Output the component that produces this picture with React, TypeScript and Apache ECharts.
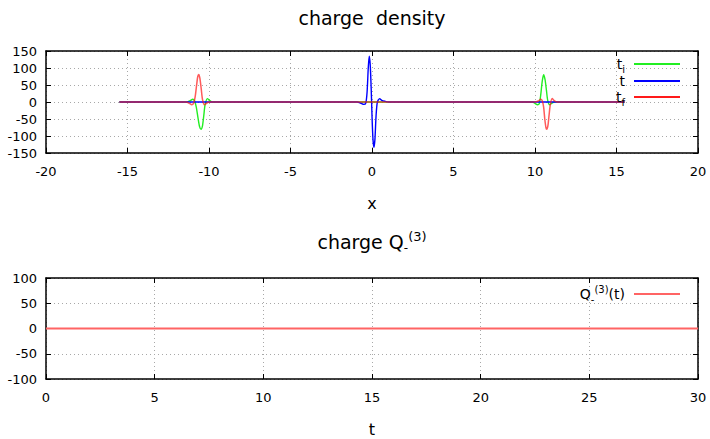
import React, { useEffect, useRef } from "react";
import * as echarts from "echarts";

const FONT = "DejaVu Sans";

// ---- data: charge density (top panel) ----
const xAxisRange = { min: -20, max: 20, interval: 5 };
const yDensityRange = { min: -150, max: 150, interval: 50 };

const tiPoints: [number, number][] = [
  [-15.5, 0], [-11.35, 0], [-11.15, 4], [-11.0, 8], [-10.88, 3], [-10.78, -15], [-10.68, -45],
  [-10.58, -72], [-10.49, -80], [-10.4, -70], [-10.32, -40], [-10.24, -8], [-10.1, 10],
  [-9.95, 4], [-9.8, 0],
  [9.85, 0], [10.0, -4], [10.15, -8], [10.26, -5], [10.35, 20], [10.44, 60], [10.53, 80],
  [10.62, 65], [10.7, 35], [10.78, 5], [10.9, -8], [11.05, -3], [11.2, 0], [15.5, 0],
];

const tPoints: [number, number][] = [
  [-15.5, 0], [-0.9, 0], [-0.7, -3], [-0.5, -7], [-0.38, -3], [-0.3, 30], [-0.23, 100],
  [-0.17, 135], [-0.11, 110], [-0.05, 40], [0.0, -40], [0.06, -110], [0.12, -133],
  [0.18, -110], [0.25, -40], [0.33, 0], [0.47, 10], [0.6, 5], [0.8, 2], [1.0, 0], [15.5, 0],
];

const tfPoints: [number, number][] = [
  [-15.5, 0], [-11.4, 0], [-11.2, -4], [-11.06, -8], [-10.95, -4], [-10.85, 15], [-10.76, 50],
  [-10.69, 75], [-10.63, 81], [-10.56, 70], [-10.48, 40], [-10.4, 8], [-10.28, -8],
  [-10.15, -4], [-10.0, 0],
  [10.0, 0], [10.2, 3], [10.35, 8], [10.45, 3], [10.53, -15], [10.6, -50], [10.67, -75],
  [10.72, -80], [10.79, -70], [10.86, -40], [10.94, -8], [11.05, 10], [11.2, 3], [11.35, 0],
  [15.5, 0],
];

// ---- data: charge Q (bottom panel) ----
const tAxisRange = { min: 0, max: 30, interval: 5 };
const yQRange = { min: -100, max: 100, interval: 50 };
const qTimes = [0, 5, 10, 15, 20, 25, 30];
const qValues = [0, 0, 0, 0, 0, 0, 0];

const seriesNames = { ti: "t_i", t: "t", tf: "t_f", q: "Q" };

function axis(
  gridIndex: number,
  position: string,
  range: { min: number; max: number; interval: number },
  main: boolean,
  labelMargin: number
) {
  return {
    type: "value",
    gridIndex,
    position,
    min: range.min,
    max: range.max,
    interval: range.interval,
    axisLine: { show: true, onZero: false, lineStyle: { color: "#000", width: 1.5 } },
    axisTick: { show: true, inside: true, length: 5, lineStyle: { color: "#000", width: 1 } },
    axisLabel: {
      show: main,
      color: "#000",
      fontFamily: FONT,
      fontSize: 13,
      margin: labelMargin,
    },
    splitLine: {
      show: main,
      lineStyle: { color: "#a8a8a8", type: [1, 3], width: 1 },
    },
  };
}

const legendRich = {
  m: { fontSize: 14, fontFamily: FONT, color: "#000", lineHeight: 20, verticalAlign: "middle" },
  sub: { fontSize: 10, fontFamily: FONT, color: "#000", lineHeight: 10, verticalAlign: "bottom" },
  sup: { fontSize: 10, fontFamily: FONT, color: "#000", lineHeight: 11, verticalAlign: "top" },
  pad: { fontSize: 14, fontFamily: FONT, color: "#000", lineHeight: 20, padding: [0, 4, 0, 0] },
};

function legendLabel(name: string): string {
  if (name === "t_i") return "{m|t}{sub|i}{pad|}";
  if (name === "t_f") return "{m|t}{sub|f}{pad|}";
  if (name === "t") return "{m|t}{pad|}";
  if (name === "Q") return "{m|Q}{sub|-}{sup|(3)}{m|(t)}{pad|}";
  return name;
}

function makeLegend(name: string, centerY: number) {
  return {
    data: [name],
    orient: "vertical",
    align: "right",
    right: 30,
    top: centerY - 10,
    padding: 0,
    icon: "rect",
    itemWidth: 46,
    itemHeight: 2,
    formatter: legendLabel,
    textStyle: { rich: legendRich },
  };
}

export default function App() {
  const ref = useRef<HTMLDivElement>(null);

  useEffect(() => {
    if (!ref.current) return;
    const chart = echarts.init(ref.current, undefined, { renderer: "svg" });

    const titleRich = {
      m: { fontSize: 19, fontFamily: FONT, color: "#000", lineHeight: 24, verticalAlign: "middle" },
      sub: { fontSize: 12, fontFamily: FONT, color: "#000", lineHeight: 13, verticalAlign: "bottom" },
      sup: { fontSize: 13, fontFamily: FONT, color: "#000", lineHeight: 14, verticalAlign: "top" },
    };

    const option = {
      animation: false,
      backgroundColor: "#fff",
      title: [
        {
          text: "charge  density",
          left: 372,
          top: 8,
          textAlign: "center",
          padding: 0,
          textStyle: { fontFamily: FONT, fontSize: 19, fontWeight: "normal", color: "#000" },
        },
        {
          text: "{m|charge Q}{sub|-}{sup|(3)}",
          left: 372,
          top: 230,
          textAlign: "center",
          padding: 0,
          textStyle: { rich: titleRich, fontFamily: FONT, fontSize: 19, fontWeight: "normal", color: "#000" },
        },
      ],
      grid: [
        { left: 46, right: 12, top: 51, height: 102, outerBoundsMode: "none", containLabel: false },
        { left: 46, right: 12, top: 278, height: 101, outerBoundsMode: "none", containLabel: false },
      ],
      xAxis: [
        {
          ...axis(0, "bottom", xAxisRange, true, 12),
          name: "x",
          nameLocation: "middle",
          nameGap: 42,
          nameTextStyle: { fontFamily: FONT, fontSize: 16, color: "#000" },
        },
        axis(0, "top", xAxisRange, false, 8),
        {
          ...axis(1, "bottom", tAxisRange, true, 12),
          name: "t",
          nameLocation: "middle",
          nameGap: 42,
          nameTextStyle: { fontFamily: FONT, fontSize: 16, color: "#000" },
        },
        axis(1, "top", tAxisRange, false, 8),
      ],
      yAxis: [
        axis(0, "left", yDensityRange, true, 9),
        axis(0, "right", yDensityRange, false, 8),
        axis(1, "left", yQRange, true, 9),
        axis(1, "right", yQRange, false, 8),
      ],
      legend: [
        makeLegend(seriesNames.ti, 67),
        makeLegend(seriesNames.t, 84),
        makeLegend(seriesNames.tf, 100),
        makeLegend(seriesNames.q, 294),
      ],
      series: [
        {
          name: seriesNames.ti,
          type: "line",
          xAxisIndex: 0,
          yAxisIndex: 0,
          data: tiPoints,
          symbol: "none",
          smooth: 0.25,
          color: "#22ee22",
          lineStyle: { width: 1.4, color: "#22ee22" },
        },
        {
          name: seriesNames.t,
          type: "line",
          xAxisIndex: 0,
          yAxisIndex: 0,
          data: tPoints,
          symbol: "none",
          smooth: 0.25,
          color: "#0000ff",
          lineStyle: { width: 1.4, color: "#0000ff" },
        },
        {
          name: seriesNames.tf,
          type: "line",
          xAxisIndex: 0,
          yAxisIndex: 0,
          data: tfPoints,
          symbol: "none",
          smooth: 0.25,
          color: "#ff1a1a",
          lineStyle: { width: 1.5, color: "#ff1a1a", opacity: 0.72 },
        },
        {
          name: seriesNames.q,
          type: "line",
          xAxisIndex: 2,
          yAxisIndex: 2,
          data: qTimes.map((t, i) => [t, qValues[i]]),
          symbol: "none",
          color: "#ff6464",
          lineStyle: { width: 2, color: "#ff6464" },
        },
      ],
    };

    chart.setOption(option as any);
    return () => chart.dispose();
  }, []);

  return <div ref={ref} style={{ width: 710, height: 439, position: "absolute", left: 0, top: 0 }} />;
}
